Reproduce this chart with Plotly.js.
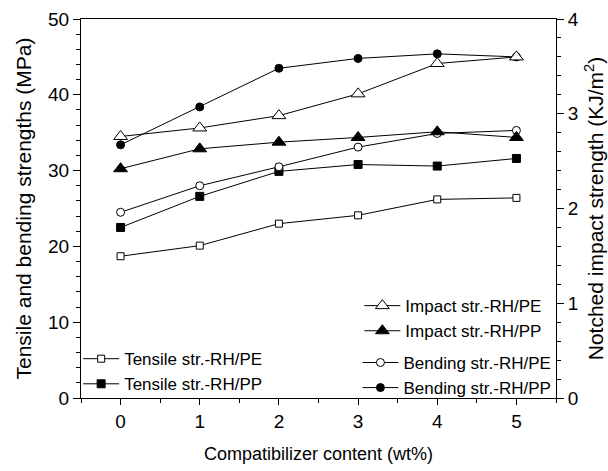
<!DOCTYPE html>
<html>
<head>
<meta charset="utf-8">
<script src="https://cdn.plot.ly/plotly-3.0.1.min.js"></script>
<style>html,body{margin:0;padding:0;background:#fff;}#chart{width:608px;height:471px;}</style>
</head>
<body>
<div id="chart"></div>
<script>
// Data
const content = [0, 1, 2, 3, 4, 5];                       // compatibilizer content (wt%)
const tensilePE = [18.7, 20.1, 23.0, 24.1, 26.2, 26.4];     // MPa
const tensilePP = [22.5, 26.6, 29.9, 30.8, 30.6, 31.6];     // MPa
const bendingPE = [24.5, 28.0, 30.5, 33.1, 34.9, 35.3];     // MPa
const bendingPP = [33.4, 38.4, 43.5, 44.8, 45.4, 45.0];     // MPa
const impactPE  = [2.76, 2.85, 2.98, 3.21, 3.53, 3.60];     // KJ/m2
const impactPP  = [2.42, 2.63, 2.70, 2.75, 2.81, 2.75];     // KJ/m2

const font = 'Arial, "Liberation Sans", sans-serif';
const line = {color: 'black', width: 1};

function tr(name, y, symbol, size, fill, yaxis, legend) {
  return {
    x: content, y: y, name: name, type: 'scatter', mode: 'lines+markers',
    line: line,
    marker: {symbol: symbol, size: size, color: fill, line: {color: 'black', width: 1}},
    yaxis: yaxis, legend: legend
  };
}

const data = [
  tr('Tensile str.-RH/PE', tensilePE, 'square', 7, 'white', 'y', 'legend'),
  tr('Tensile str.-RH/PP', tensilePP, 'square', 8, 'black', 'y', 'legend'),
  tr('Impact str.-RH/PE', impactPE, 'triangle-up', 12, 'white', 'y2', 'legend2'),
  tr('Impact str.-RH/PP', impactPP, 'triangle-up', 12, 'black', 'y2', 'legend2'),
  tr('Bending str.-RH/PE', bendingPE, 'circle', 8, 'white', 'y', 'legend3'),
  tr('Bending str.-RH/PP', bendingPP, 'circle', 8, 'black', 'y', 'legend3')
];

const legendBase = {
  xanchor: 'left', yanchor: 'top',
  bgcolor: 'rgba(0,0,0,0)', borderwidth: 0,
  font: {family: font, size: 17}, tracegroupgap: 0, itemwidth: 36
};

const layout = {
  width: 608, height: 471,
  margin: {l: 81, r: 52, t: 19, b: 73},
  paper_bgcolor: 'white', plot_bgcolor: 'white',
  font: {family: font, size: 19, color: 'black'},
  showlegend: true,
  xaxis: {
    range: [-0.5, 5.5], dtick: 1, tick0: 0,
    ticks: 'outside', ticklen: 6, tickwidth: 1, tickcolor: 'black',
    minor: {dtick: 0.5, ticks: 'outside', ticklen: 4, tickcolor: 'black'},
    showline: true, linecolor: 'black', linewidth: 1, mirror: true,
    showgrid: false, zeroline: false,
    tickfont: {family: font, size: 19},
    title: {text: 'Compatibilizer content (wt%)', font: {family: font, size: 18}, standoff: 16}
  },
  xaxis2: {
    overlaying: 'x', matches: 'x', side: 'top', anchor: 'y',
    range: [-0.5, 5.5], dtick: 1, tick0: 0,
    ticks: 'inside', ticklen: 5, tickcolor: 'black',
    showticklabels: false, showline: false, showgrid: false, zeroline: false
  },
  yaxis: {
    range: [0, 50], dtick: 10,
    ticks: 'outside', ticklen: 7, tickwidth: 1, tickcolor: 'black',
    minor: {dtick: 2, ticks: 'outside', ticklen: 4, tickcolor: 'black'},
    showline: true, linecolor: 'black', linewidth: 1,
    showgrid: false, zeroline: false,
    tickfont: {family: font, size: 19},
    title: {text: 'Tensile and bending strengths (MPa)', font: {family: font, size: 21}, standoff: 10}
  },
  yaxis2: {
    overlaying: 'y', side: 'right', anchor: 'x',
    range: [0, 4], dtick: 1,
    ticks: 'outside', ticklen: 7, tickwidth: 1, tickcolor: 'black',
    minor: {dtick: 0.2, ticks: 'outside', ticklen: 4, tickcolor: 'black'},
    showline: true, linecolor: 'black', linewidth: 1,
    showgrid: false, zeroline: false,
    tickfont: {family: font, size: 19},
    title: {text: 'Notched impact strength (KJ/m<sup>2</sup>)', font: {family: font, size: 21}, standoff: 10}
  },
  legend: Object.assign({}, legendBase, {x: -0.006, y: 0.150}),
  legend2: Object.assign({}, legendBase, {x: 0.586, y: 0.290}),
  legend3: Object.assign({}, legendBase, {x: 0.582, y: 0.140})
};

Plotly.newPlot('chart', data, layout, {displayModeBar: false, staticPlot: true});
</script>
</body>
</html>
